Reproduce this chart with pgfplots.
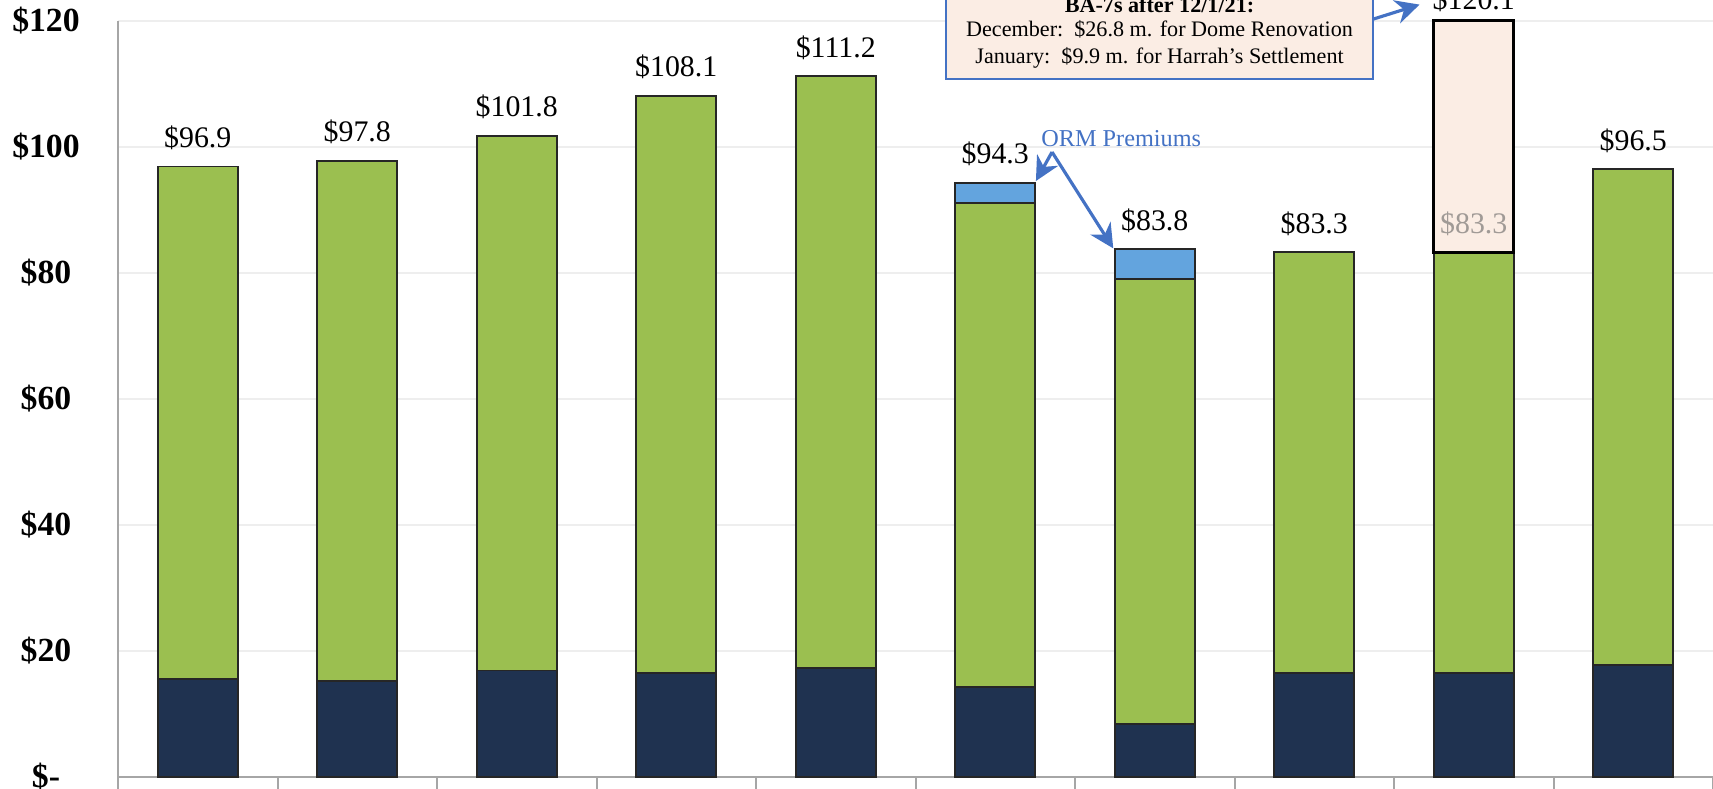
\documentclass[border=0pt]{standalone}
\usepackage{pgfplots}
\pgfplotsset{compat=1.18}
\usepackage{fontspec}
\setmainfont{Liberation Serif}
\usetikzlibrary{arrows.meta}
\definecolor{navy}{HTML}{1F3250}
\definecolor{olive}{HTML}{9BBF50}
\definecolor{ormblue}{HTML}{63A4DE}
\definecolor{peach}{HTML}{FBEDE4}
\definecolor{annblue}{HTML}{4472C4}
\definecolor{axisgray}{HTML}{A6A6A6}
\definecolor{gridgray}{HTML}{EEEEEE}
\definecolor{barline}{HTML}{262626}
\definecolor{lblgray}{HTML}{A09A96}
\begin{document}
\begin{tikzpicture}[
  lbl/.style={anchor=base, yshift=1.9mm, font=\fontsize{8.5}{10}\selectfont},
  arr/.style={annblue, line width=0.9pt, -{Stealth[length=2.4mm,width=2.4mm]}}
]
\begin{axis}[name=ax, scale only axis, width=159.5mm, height=75.6mm,
  xmin=-0.5, xmax=9.5, ymin=0, ymax=120,
  ybar, bar width=0.5,
  axis x line*=bottom, axis y line*=left,
  axis line style={draw=axisgray, line width=0.2mm, -},
  tick align=outside,
  xtick={-0.5,0.5,...,9.5}, xticklabels={},
  major tick length=3mm,
  x tick style={draw=axisgray, line width=0.2mm},
  ytick={0,20,...,120},
  yticklabels={\$-,\$20,\$40,\$60,\$80,\$100,\$120},
  y tick style={draw=none},
  yticklabel style={font=\bfseries\fontsize{9.6}{11}\selectfont, anchor=center, xshift=-4.2mm},
  ymajorgrids, grid style={draw=gridgray, line width=0.15mm},
  clip=false,
]
\addplot[fill=ormblue, draw=barline, line width=0.55pt, bar shift=0pt] coordinates {(5,94.3) (6,83.8)};
\addplot[fill=olive, draw=barline, line width=0.55pt, bar shift=0pt] coordinates {(0,96.9) (1,97.8) (2,101.8) (3,108.1) (4,111.2) (5,91.1) (6,79.1) (7,83.3) (8,83.3) (9,96.5)};
\addplot[fill=navy, draw=barline, line width=0.55pt, bar shift=0pt] coordinates {(0,15.6) (1,15.2) (2,16.9) (3,16.5) (4,17.3) (5,14.3) (6,8.4) (7,16.5) (8,16.5) (9,17.8)};
% BA-7 increment: 83.3 -> 120.1
\addplot[sharp plot, fill=peach, draw=black, line width=0.9pt] coordinates {(7.75,83.3) (7.75,120.1) (8.25,120.1) (8.25,83.3)} -- cycle;

\node[lbl] at (axis cs:0,96.9) {\$96.9};
\node[lbl] at (axis cs:1,97.8) {\$97.8};
\node[lbl] at (axis cs:2,101.8) {\$101.8};
\node[lbl] at (axis cs:3,108.1) {\$108.1};
\node[lbl] at (axis cs:4,111.2) {\$111.2};
\node[lbl] at (axis cs:5,94.3) {\$94.3};
\node[lbl] at (axis cs:6,83.8) {\$83.8};
\node[lbl] at (axis cs:7,83.3) {\$83.3};
\node[lbl, text=lblgray] at (axis cs:8,83.3) {\$83.3};
\node[lbl, yshift=-0.8mm] at (axis cs:8,120.1) {\$120.1};
\node[lbl] at (axis cs:9,96.5) {\$96.5};

% ORM annotation
\node[annblue, font=\fontsize{6.9}{8}\selectfont] at (axis cs:5.79,101.3) {ORM Premiums};
\draw[arr] (axis cs:5.356,99.2) -- (axis cs:5.255,94.6);
\draw[arr] (axis cs:5.356,99.2) -- (axis cs:5.74,83.9);

% BA-7 box
\draw[annblue, fill=peach, line width=0.2mm] (axis cs:4.691,110.8) rectangle (axis cs:7.368,127);
\node[anchor=base, font=\bfseries\fontsize{6.3}{7}\selectfont] at (axis cs:6.03,121.3) {BA-7s after 12/1/21:};
\node[anchor=base, font=\fontsize{6.3}{7}\selectfont] at (axis cs:6.03,117.5) {December:\ \ \$26.8 m. for Dome Renovation};
\node[anchor=base, font=\fontsize{6.3}{7}\selectfont] at (axis cs:6.03,113.3) {January:\ \ \$9.9 m. for Harrah’s Settlement};
\draw[arr] (axis cs:7.37,120.3) -- (axis cs:7.66,122.6);
\end{axis}
\pgfresetboundingbox
\path[use as bounding box] ([xshift=-11.8mm,yshift=-1.2mm]ax.south west) rectangle ([yshift=2.1mm]ax.north east);
\end{tikzpicture}
\end{document}
